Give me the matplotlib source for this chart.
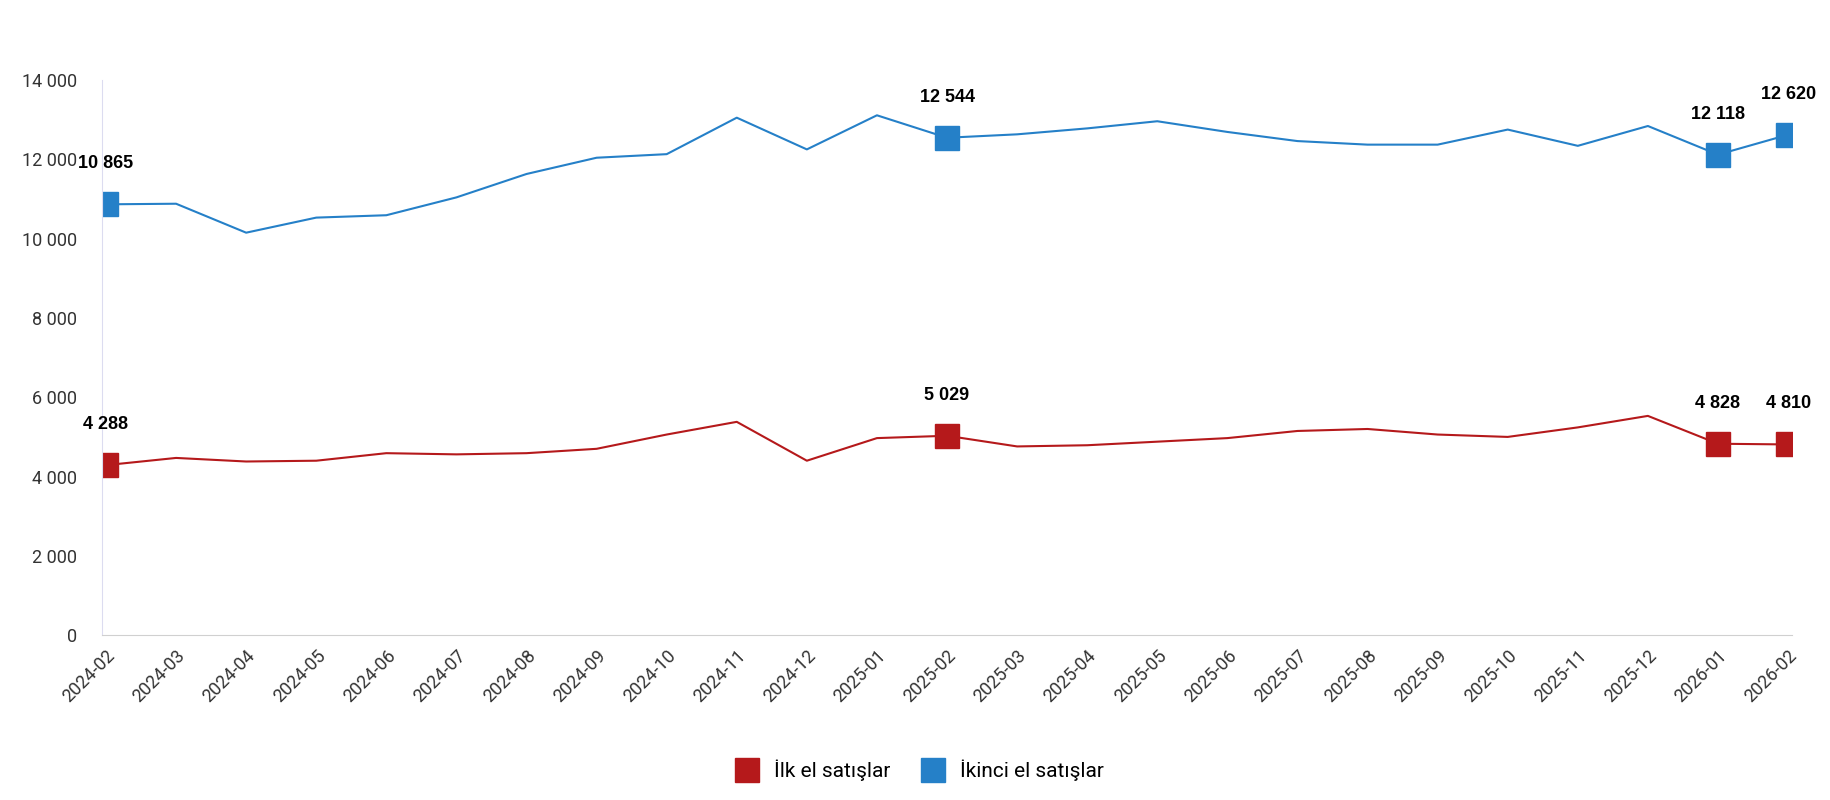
import matplotlib
matplotlib.use("Agg")
import matplotlib.pyplot as plt
from matplotlib.ticker import FuncFormatter
from matplotlib.lines import Line2D

months = ["2024-02","2024-03","2024-04","2024-05","2024-06","2024-07","2024-08","2024-09","2024-10","2024-11","2024-12",
          "2025-01","2025-02","2025-03","2025-04","2025-05","2025-06","2025-07","2025-08","2025-09","2025-10","2025-11","2025-12",
          "2026-01","2026-02"]
ilk = [4288,4470,4380,4400,4590,4560,4590,4700,5060,5380,4400,4970,5029,4760,4790,4880,4970,5150,5200,5060,5000,5240,5530,4828,4810]
ikinci = [10865,10880,10150,10530,10590,11040,11630,12040,12130,13050,12250,13110,12544,12630,12780,12960,12690,12460,12370,12370,12750,12340,12840,12118,12620]
marked = [0,12,23,24]

plt.rcParams['font.family'] = ['Roboto', 'DejaVu Sans']
fig, ax = plt.subplots(figsize=(18.3,8), dpi=100)
fig.subplots_adjust(left=0.056, right=0.979, top=0.90, bottom=0.206)
x = list(range(len(months)))
red, blue = "#b5191b", "#2580c8"
ax.plot(x, ilk, color=red, lw=1.5)
ax.plot(x, ikinci, color=blue, lw=1.5)
for i in marked:
    ax.plot(i, ilk[i], 's', color=red, ms=17)
    ax.plot(i, ikinci[i], 's', color=blue, ms=17)
    for v in (ilk[i], ikinci[i]):
        ax.annotate(f"{v:,}".replace(",", " "), (i, v), xytext=(0, 26), textcoords="offset points",
                    ha="center", fontsize=13, fontweight="bold", family=["Liberation Sans"])
ax.set_ylim(0, 14000)
ax.set_xlim(-0.05, 24.05)
ax.set_yticks(range(0, 14001, 2000))
ax.yaxis.set_major_formatter(FuncFormatter(lambda v, p: f"{int(v):,}".replace(",", " ")))
ax.set_xticks(x)
ax.set_xticklabels(months, rotation=45, ha="right", rotation_mode="anchor", fontsize=13, color="#333333")
ax.tick_params(axis='y', labelsize=13, labelcolor="#333333", length=0, pad=18)
ax.tick_params(axis='x', length=0, pad=8)
for s in ("top", "right"):
    ax.spines[s].set_visible(False)
ax.spines["left"].set_color("#dcdcf0")
ax.spines["bottom"].set_color("#d0d0d0")
h = [Line2D([], [], marker='s', ls='', color=red, ms=17), Line2D([], [], marker='s', ls='', color=blue, ms=17)]
fig.legend(h, ["İlk el satışlar", "İkinci el satışlar"], loc="lower center", ncol=2, frameon=False,
           fontsize=15, bbox_to_anchor=(0.5, 0.0), handletextpad=0.3, columnspacing=1.0)
fig.savefig("out.png")
